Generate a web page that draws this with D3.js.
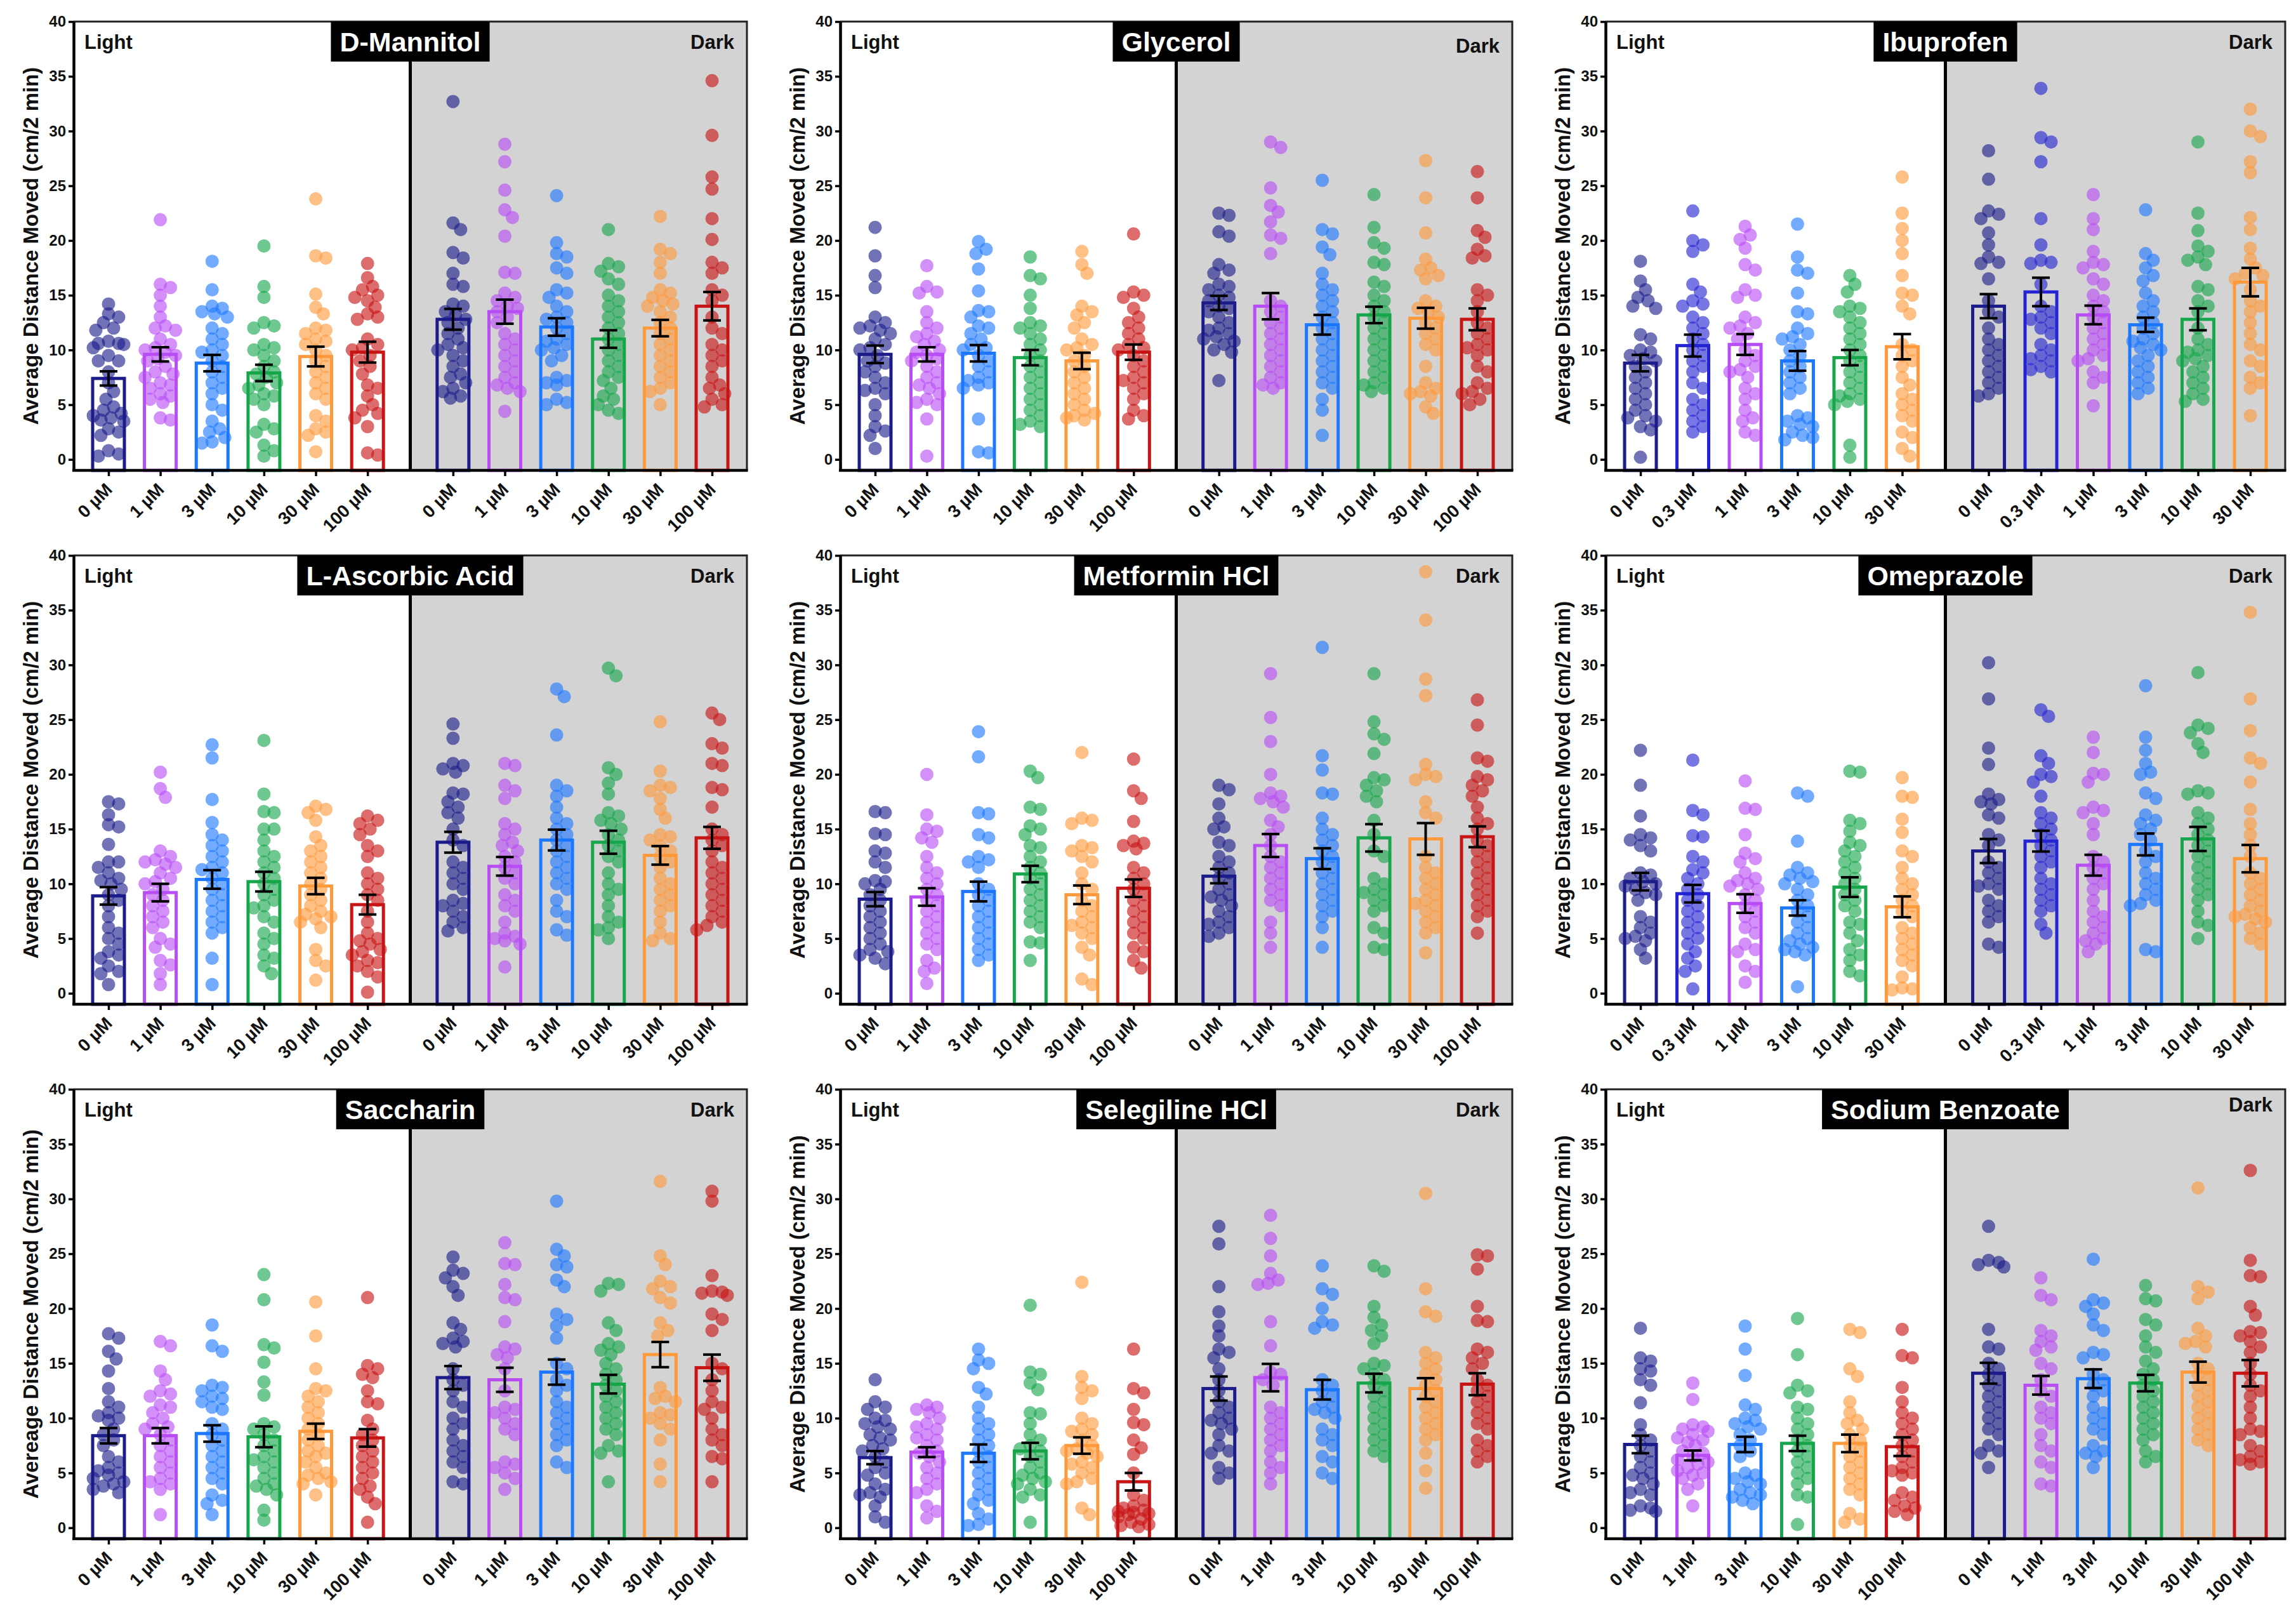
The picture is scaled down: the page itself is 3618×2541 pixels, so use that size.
<!DOCTYPE html>
<html><head><meta charset="utf-8">
<script src="https://cdn.jsdelivr.net/npm/d3@7"></script>
<style>body{margin:0;background:#fff}svg{display:block}text{font-family:"Liberation Sans",Arial,sans-serif;font-weight:bold}</style>
</head><body>
<script>
// ---------- DATA ----------
const panelTitles = ["D-Mannitol","Glycerol","Ibuprofen","L-Ascorbic Acid","Metformin HCl","Omeprazole","Saccharin","Selegiline HCl","Sodium Benzoate"];
const yTitles = ["Average Distance Moved (cm/2 min)","Average Distance Moved (cm/2 min)","Average Distance Moved (cm/2 min)","Average Distance Moved (cm/2 min)","Average Distance Moved (cm/2 min)","Average Distance Moved (cm/2 min)","Avereage Distance Moved (cm/2 min)","Average Distance Moved (cm/2 min)","Average Distance Moved (cm/2 min)"];
const doses6 = ["0 µM","1 µM","3 µM","10 µM","30 µM","100 µM"];
const doses03 = ["0 µM","0.3 µM","1 µM","3 µM","10 µM","30 µM"];
const yTicks = [0,5,10,15,20,25,30,35,40];

const mannitolMean = [7.4,9.6,8.8,7.9,9.4,9.8, 12.8,13.5,12.1,11.0,12.0,14.0];
const mannitolSem  = [0.65,0.65,0.75,0.75,0.9,0.95, 0.95,1.1,0.8,0.8,0.75,1.3];
const mannitolPts = [
 [14.2,13.3,13.0,12.5,12.0,11.8,10.8,10.6,10.5,10.6,10.2,9.5,9.0,9.0,8.0,7.0,6.2,5.5,4.8,4.5,4.2,4.0,3.8,3.6,3.5,2.8,2.5,2.2,0.8,0.5,0.3],
 [21.9,16.0,15.7,15.0,14.0,13.0,12.2,12.0,11.8,11.0,10.5,10.2,10.0,9.8,9.5,9.2,9.0,8.5,8.0,7.8,7.5,7.0,6.8,6.5,6.0,5.8,5.5,5.2,3.8,3.6],
 [18.1,15.5,14.0,13.8,13.5,13.3,13.0,12.0,11.5,11.0,10.5,10.0,9.8,9.5,9.0,8.5,8.0,7.5,7.0,6.5,6.0,5.0,4.5,3.5,2.8,2.5,2.0,1.6,1.5],
 [19.5,15.8,14.8,12.5,12.2,12.0,10.5,10.2,10.0,9.5,9.0,8.5,8.0,7.8,7.5,7.0,6.8,6.5,6.0,5.8,5.5,5.0,3.2,2.8,2.5,1.3,0.8,0.3],
 [23.8,18.6,18.4,15.1,13.9,13.3,12.0,11.8,11.5,11.0,10.8,10.5,10.0,9.5,9.0,8.5,8.0,7.5,7.0,6.5,6.0,5.5,4.0,3.5,2.8,2.5,2.2,0.7],
 [17.9,16.6,15.8,15.5,15.0,14.8,14.5,13.9,13.3,13.0,12.8,11.0,10.5,10.2,10.0,9.5,9.0,8.5,7.8,6.8,6.5,5.8,5.0,4.5,4.2,3.8,3.0,0.6,0.4],
 [32.7,21.6,21.0,18.9,18.4,17.0,16.0,15.8,14.2,14.0,13.5,13.2,12.8,12.5,12.0,11.5,11.0,10.5,10.2,10.0,9.5,9.0,8.5,7.8,7.5,7.0,6.5,6.2,5.8,5.6],
 [28.8,27.2,24.6,22.8,22.1,20.4,17.1,17.0,15.2,14.8,14.5,14.0,13.8,13.5,13.0,12.5,11.5,11.0,10.5,10.0,9.5,9.0,8.5,8.0,7.5,7.0,6.8,6.5,6.2,4.4],
 [24.1,19.8,18.8,18.5,17.5,17.0,15.5,15.2,14.8,14.0,13.5,13.0,12.8,12.5,12.0,11.5,11.0,10.8,10.5,10.2,10.0,9.5,9.0,7.5,7.2,7.0,6.8,5.5,5.2,5.0],
 [21.0,17.9,17.6,17.2,16.5,16.0,15.0,14.5,14.0,13.5,13.0,12.5,12.0,11.5,11.0,10.5,10.0,9.5,9.0,8.5,8.0,7.5,7.2,6.5,5.8,5.5,5.0,4.5,4.2],
 [22.2,19.2,18.8,18.0,17.0,15.5,15.2,14.8,14.5,14.2,14.0,13.5,13.0,12.5,12.0,11.5,11.0,10.5,10.0,9.5,9.0,8.5,8.0,7.5,7.0,6.5,6.2,5.0],
 [34.6,29.6,25.8,24.7,22.0,20.1,18.0,17.5,17.0,15.5,15.0,14.5,13.0,12.0,11.5,10.5,10.0,9.5,9.0,8.5,7.5,6.8,6.5,6.0,5.5,5.0,4.8]
];

const glycerolMean = [9.6,9.6,9.7,9.3,9.0,9.8, 14.3,14.0,12.3,13.2,12.9,12.8];
const glycerolSem  = [0.8,0.65,0.75,0.7,0.75,0.7, 0.65,1.2,0.9,0.75,0.95,1.0];
const glycerolPts = [
 [21.2,18.6,16.8,15.7,13.0,12.5,12.2,12.0,11.8,11.5,11.0,10.5,10.2,10.0,9.5,9.0,8.8,8.5,8.0,7.5,7.0,6.5,6.3,6.0,5.0,4.0,3.0,2.6,2.2,1.0],
 [17.7,15.8,15.3,15.2,13.5,12.5,12.0,11.5,11.2,10.8,10.5,10.0,9.8,9.5,9.2,9.0,8.5,8.0,7.5,7.0,6.8,6.5,6.0,5.5,5.2,5.0,3.7,0.3],
 [19.9,19.2,18.8,17.4,15.4,13.6,13.5,13.0,12.2,12.0,11.5,11.0,10.5,10.2,10.0,9.5,9.0,8.5,8.0,7.5,7.2,7.0,6.8,6.5,3.7,0.7,0.6],
 [18.5,16.8,16.5,15.0,13.8,12.5,12.2,12.0,11.5,11.0,10.5,10.0,9.5,9.0,8.5,8.0,7.5,7.0,6.5,6.0,5.5,5.0,4.5,4.0,3.5,3.2,3.0],
 [19.0,17.8,17.0,14.0,13.5,13.2,12.5,12.0,11.0,10.5,10.2,10.0,9.5,9.0,8.5,8.0,7.5,7.0,6.5,6.0,5.5,5.0,4.5,4.2,4.0,3.8,3.6],
 [20.6,15.3,15.0,14.8,13.8,13.0,12.5,12.0,11.5,11.0,10.5,10.2,10.0,9.5,9.0,8.5,8.0,7.5,7.2,7.0,6.5,6.0,5.5,4.5,4.0,3.7],
 [22.5,22.3,20.8,20.4,17.8,17.3,17.0,16.0,15.8,15.5,15.0,14.8,14.5,14.0,13.8,13.5,13.0,12.5,12.0,11.8,11.5,11.2,11.0,10.8,10.5,10.0,9.8,7.2],
 [29.0,28.5,24.8,23.2,22.6,21.7,20.5,20.2,18.8,14.5,14.0,13.5,13.0,12.5,12.0,11.5,11.0,10.5,10.0,9.5,9.0,8.5,8.0,7.5,7.0,6.8,6.5],
 [25.5,21.0,20.6,19.4,18.7,17.0,16.0,15.5,15.0,14.5,14.0,13.5,13.0,12.5,12.0,11.5,11.0,10.5,10.0,9.5,9.0,8.5,8.0,7.5,7.0,6.5,5.5,4.5,2.2],
 [24.2,21.2,19.8,19.3,18.0,17.8,16.2,15.8,15.0,14.5,14.0,13.5,13.0,12.5,12.0,11.5,11.0,10.5,10.0,9.5,9.0,8.5,8.0,7.5,7.0,6.8,6.5,6.2],
 [27.3,23.9,20.7,18.3,17.5,17.3,16.8,16.5,14.5,14.0,13.8,13.5,13.0,12.5,12.0,11.5,11.0,10.5,10.0,8.5,7.0,6.5,6.2,6.0,5.8,4.8,4.2],
 [26.3,23.9,20.9,20.3,19.2,18.6,18.4,15.5,15.0,14.5,13.5,12.5,12.0,11.5,11.0,10.5,10.2,10.0,9.5,8.5,8.0,7.0,6.5,6.2,6.0,5.5,5.0]
];

const ibuprofenMean = [8.8,10.4,10.5,9.0,9.3,10.3, 14.0,15.3,13.2,12.3,12.8,16.2];
const ibuprofenSem  = [0.75,1.0,0.95,0.9,0.7,1.15, 1.1,1.3,0.85,0.65,1.0,1.3];
const ibuprofenPts = [
 [18.1,16.3,15.5,14.8,14.5,14.0,13.8,11.4,11.0,10.0,9.8,9.5,9.2,9.0,8.5,8.0,7.5,7.0,6.5,6.0,5.5,5.0,4.5,4.0,3.8,3.5,3.0,2.7,0.2],
 [22.7,20.0,19.6,19.0,16.0,15.3,14.5,14.2,14.0,13.0,12.5,12.0,11.5,11.0,10.5,10.0,9.5,9.0,8.5,8.0,7.0,6.5,5.5,5.0,4.5,4.0,3.5,3.0,2.5],
 [21.3,20.5,20.1,19.3,17.8,17.3,15.5,15.0,14.8,13.0,12.5,12.2,12.0,11.5,11.0,10.0,9.5,9.0,8.5,8.2,8.0,7.5,6.5,6.0,5.5,4.5,3.8,3.5,2.5,2.2],
 [21.5,18.5,17.3,17.0,15.2,13.5,13.3,12.0,11.5,11.2,11.0,10.5,10.0,9.5,9.0,8.5,8.0,7.5,7.0,6.5,6.0,4.0,3.8,3.5,3.2,3.0,2.5,2.2,2.0,1.8],
 [16.8,16.0,15.3,14.0,13.8,13.5,13.0,12.5,12.0,11.5,11.0,10.5,10.0,9.5,9.0,8.5,8.0,7.5,7.0,6.5,6.0,5.8,5.5,5.3,5.0,1.3,0.2],
 [25.8,22.5,21.1,20.0,18.8,16.8,15.2,15.0,14.0,13.3,10.5,10.0,9.5,9.0,8.5,7.5,6.8,6.0,5.5,5.0,4.5,4.0,3.5,2.5,2.0,1.0,0.3],
 [28.2,25.6,22.7,22.4,22.0,20.7,19.6,18.5,18.0,17.9,16.5,14.5,13.5,13.0,12.0,11.0,10.5,10.0,9.5,9.0,8.5,8.0,7.5,7.0,6.5,6.0,5.8],
 [33.9,29.4,29.0,27.2,22.0,19.6,18.2,18.0,17.9,16.0,14.0,13.5,13.0,12.8,12.5,12.0,11.5,10.5,10.0,9.5,9.2,9.0,8.5,8.2,8.0],
 [24.2,22.0,21.0,19.0,18.0,17.8,17.5,16.5,16.0,15.0,14.5,14.0,13.5,13.0,12.5,12.0,11.5,11.0,10.5,10.0,9.5,9.2,9.0,8.0,7.5,7.0,4.9],
 [22.8,18.8,18.2,17.5,16.8,16.3,15.2,14.5,14.0,13.5,13.0,12.5,12.0,11.5,11.0,10.8,10.5,10.2,10.0,9.5,9.0,8.5,8.0,7.5,7.0,6.5,6.0],
 [29.0,22.5,20.9,19.5,19.0,18.5,18.2,17.8,15.8,15.5,14.5,14.0,13.5,12.0,11.0,10.5,10.0,9.8,9.5,9.2,9.0,8.5,8.0,7.5,7.0,6.5,6.0,5.5,5.3],
 [32.0,30.0,29.5,27.2,26.2,22.1,21.0,19.3,18.3,17.5,17.0,16.8,16.5,15.5,14.5,14.0,13.5,12.5,11.5,10.5,10.0,9.0,8.5,7.5,7.0,6.5,4.0]
];

const ascorbicMean = [8.9,9.2,10.4,10.2,9.8,8.1, 13.8,11.6,14.0,13.8,12.6,14.2];
const ascorbicSem  = [0.8,0.8,0.85,0.9,0.75,0.9, 0.95,0.85,0.95,1.05,0.85,1.0];
const ascorbicPts = [
 [17.5,17.3,16.3,15.4,15.2,13.6,12.0,12.0,11.5,11.0,10.5,10.3,10.0,9.5,9.0,8.5,8.0,7.0,6.0,5.5,5.0,4.5,3.8,3.5,3.2,2.5,2.0,1.8,0.8],
 [20.2,18.7,17.9,13.0,12.5,12.2,12.0,11.8,11.5,11.0,10.5,10.2,10.0,9.5,9.0,8.5,8.0,7.5,7.0,6.5,6.0,5.0,4.5,4.2,3.0,2.6,1.8,0.8],
 [22.7,21.5,17.7,15.6,14.5,14.0,13.5,13.0,12.5,12.0,11.5,11.3,11.0,10.5,10.0,9.5,9.0,8.5,8.0,7.5,7.0,6.5,6.0,5.5,3.2,0.8],
 [23.1,18.2,16.6,16.5,15.0,15.0,14.0,13.0,12.5,12.0,11.5,11.0,10.5,10.0,9.5,9.0,8.5,8.0,7.8,7.0,6.5,5.5,5.0,4.5,3.5,3.2,2.5,1.8],
 [17.1,16.8,16.5,15.8,14.3,13.5,13.0,12.5,12.0,11.5,11.0,10.5,10.0,9.5,9.0,8.5,8.0,7.5,7.2,7.0,6.8,6.5,6.0,4.0,3.0,2.5,1.2],
 [16.2,15.8,15.5,15.0,14.5,13.5,13.0,12.5,11.0,10.5,10.0,9.5,9.0,8.5,7.5,6.5,5.5,5.0,4.8,4.5,4.0,3.8,3.5,3.0,2.8,2.5,2.0,1.5,0.1],
 [24.6,23.3,21.0,20.8,20.5,20.2,18.3,18.2,17.5,17.0,16.5,16.0,15.0,14.0,13.5,12.0,11.5,11.0,10.5,10.0,9.5,8.5,8.2,8.0,7.5,7.0,6.5,6.0,5.7],
 [21.0,20.8,19.0,18.5,17.8,15.5,15.0,14.5,13.8,13.5,13.0,12.5,12.0,11.5,11.0,10.5,10.0,9.0,8.5,8.0,7.5,6.5,5.5,5.2,5.0,4.8,4.5,2.4],
 [27.8,27.1,23.6,19.0,18.5,18.0,17.0,16.0,15.5,15.0,14.5,14.0,13.5,13.0,12.5,12.0,11.5,11.0,10.5,10.0,9.5,8.5,7.5,7.0,5.8,5.3],
 [29.7,29.0,20.6,20.0,19.2,18.2,16.5,16.2,15.8,15.5,15.0,14.5,14.0,13.5,13.0,12.5,12.0,11.0,10.0,9.5,9.0,8.0,7.0,6.5,6.0,5.8,5.0],
 [24.8,20.3,19.0,18.8,18.5,17.8,16.8,16.0,14.5,14.3,14.0,13.5,13.0,12.5,12.0,11.5,10.5,10.0,9.5,9.0,8.5,8.0,7.5,6.5,5.5,5.0,4.8],
 [25.6,25.0,22.8,22.4,21.0,20.8,18.8,18.6,17.0,15.0,14.5,14.0,13.5,13.0,12.0,11.5,11.0,10.5,10.0,9.5,9.0,8.5,8.0,7.5,7.0,6.5,6.2,5.8]
];

const metforminMean = [8.6,8.8,9.3,10.9,9.0,9.6, 10.7,13.5,12.3,14.2,14.1,14.3];
const metforminSem  = [0.65,0.8,0.9,0.75,0.85,0.8, 0.65,1.05,0.95,1.25,1.45,0.95];
const metforminPts = [
 [16.6,16.5,14.6,14.5,13.0,12.8,12.0,11.5,10.3,10.2,10.0,9.5,9.0,8.5,8.0,7.5,7.0,6.5,6.0,5.5,5.0,4.5,4.0,3.8,3.5,3.2,2.7],
 [20.0,16.3,15.0,14.8,14.2,13.8,12.5,11.5,11.0,10.5,10.0,9.5,9.0,8.5,8.0,7.5,7.0,6.5,6.0,5.5,5.0,4.5,4.0,3.0,2.3,2.0,0.9],
 [23.9,21.6,16.5,16.4,14.5,14.2,12.5,12.2,12.0,11.5,10.0,9.5,9.0,8.5,8.0,7.5,7.0,6.5,6.0,5.5,5.0,4.5,4.0,3.5,3.0],
 [20.3,19.7,17.0,16.8,15.3,15.0,14.5,13.5,13.3,12.5,12.0,11.5,11.0,10.5,10.0,9.5,9.0,8.5,8.0,7.5,7.0,6.5,6.0,4.7,4.6,3.0],
 [22.0,16.0,15.8,15.5,13.5,13.3,13.0,12.5,12.0,11.0,10.0,9.5,8.5,8.0,7.5,7.0,6.5,6.2,6.0,5.5,5.0,4.2,3.5,1.3,0.8],
 [21.4,18.5,17.8,15.7,13.9,13.7,13.5,13.2,11.5,11.0,10.5,10.0,9.5,9.0,8.5,8.0,7.5,7.0,6.5,6.0,5.5,5.0,4.2,3.8,3.0,2.3],
 [19.0,18.6,17.3,16.0,15.2,15.0,13.8,13.5,12.5,12.0,11.5,11.0,10.5,10.0,9.5,9.0,8.8,8.5,8.0,7.5,7.0,6.5,6.3,6.0,5.5,5.2],
 [29.2,25.2,23.0,20.0,18.3,18.0,17.8,17.5,17.0,15.8,15.2,14.5,13.5,12.5,12.0,11.5,11.0,10.5,10.0,9.5,9.0,8.5,8.0,6.5,5.5,4.2],
 [31.6,21.7,20.4,18.3,18.2,16.0,15.0,14.5,14.0,13.5,13.0,12.5,12.0,11.5,11.0,10.5,10.0,9.5,9.0,8.5,8.0,7.5,7.0,6.0,4.2],
 [29.2,24.8,23.7,23.2,21.9,19.7,19.5,19.0,18.5,18.0,17.5,15.8,14.5,13.0,12.5,10.5,10.0,9.5,9.2,9.0,8.5,8.0,7.5,6.0,5.5,4.2,4.0],
 [38.5,34.1,28.7,27.2,20.9,20.0,19.8,19.5,17.5,16.5,16.0,12.5,11.5,11.0,10.5,10.0,9.5,9.0,8.5,8.2,8.0,7.5,7.0,6.5,6.0,5.5,3.7],
 [26.8,24.5,21.5,21.2,19.8,19.5,19.0,18.5,18.0,17.0,16.0,15.5,15.0,14.0,13.5,13.0,12.5,12.0,11.5,11.0,10.5,10.0,9.5,9.0,8.5,8.0,7.5,7.0,5.5]
];

const omeprazoleMean = [10.2,9.1,8.2,7.8,9.7,7.9, 13.0,13.9,11.7,13.6,14.1,12.3];
const omeprazoleSem  = [0.8,0.8,0.85,0.7,0.9,0.95, 1.1,0.95,0.95,1.0,1.1,1.25];
const omeprazolePts = [
 [22.2,19.0,16.2,14.5,14.2,14.0,13.5,13.0,11.0,10.8,10.5,10.2,10.0,9.8,9.5,9.2,9.0,8.5,7.0,6.5,6.0,5.5,5.2,5.0,4.8,4.0,3.2],
 [21.3,16.7,16.3,14.4,14.3,12.5,12.0,11.3,11.0,10.5,10.0,9.5,9.0,8.5,8.0,7.5,7.0,6.5,6.0,5.5,5.0,4.5,3.8,3.2,2.5,2.0,0.4],
 [19.4,16.9,16.8,14.5,12.8,12.3,12.0,11.0,10.5,10.3,10.0,9.8,9.5,9.0,8.5,8.0,7.5,7.0,6.5,6.0,5.5,4.5,4.0,3.8,2.5,2.0,1.0],
 [18.3,18.0,13.9,11.5,11.0,10.8,10.5,10.2,10.0,9.5,9.0,8.5,8.0,7.5,7.0,6.5,6.0,5.5,5.0,4.8,4.5,4.2,4.0,3.8,3.5,0.6],
 [20.3,20.2,15.8,15.5,14.8,13.8,13.5,13.0,12.5,12.0,11.5,11.0,10.5,10.0,9.5,9.0,8.5,8.0,7.5,6.5,6.3,5.5,4.8,4.0,3.5,3.0,2.0,1.6],
 [19.7,18.0,17.9,15.9,14.7,13.0,12.5,11.5,10.5,10.0,9.5,9.0,8.5,8.0,7.5,7.0,6.0,5.5,5.0,4.5,4.0,3.5,3.0,2.5,1.5,0.5,0.4,0.3],
 [30.2,26.9,22.4,20.9,18.2,17.7,17.5,17.3,16.3,16.0,14.5,14.0,13.5,12.0,11.5,11.0,10.5,10.0,9.8,9.5,8.5,8.0,7.5,7.0,6.5,4.5,4.2],
 [25.9,25.3,21.7,21.0,20.0,19.8,19.3,18.0,16.5,16.0,15.5,15.0,14.5,14.0,13.5,13.0,12.5,12.0,11.5,10.5,10.0,9.5,9.0,8.5,8.0,7.5,6.3,5.5],
 [23.4,22.0,20.1,20.0,19.3,17.0,16.7,16.5,15.5,14.5,12.5,12.0,11.5,11.0,10.5,10.0,9.5,8.5,7.5,7.0,6.5,6.0,5.5,5.0,4.8,4.5,3.8],
 [28.1,23.4,22.2,21.0,20.2,20.0,18.3,17.8,16.3,15.8,15.5,15.0,14.5,14.0,13.0,12.5,12.0,11.0,10.5,10.0,9.5,9.0,8.5,8.2,8.0,4.0,3.8],
 [29.3,24.5,24.2,23.8,22.8,22.0,18.5,18.3,18.2,16.5,16.0,15.5,15.0,14.5,14.0,13.5,13.0,12.5,12.0,11.5,11.0,10.5,10.0,9.5,9.0,8.5,7.5,6.5,6.2,5.0],
 [34.8,26.9,24.0,21.5,21.0,19.3,16.8,15.5,14.5,13.5,12.5,11.0,10.5,10.0,9.5,9.0,8.5,8.0,7.5,7.2,7.0,6.8,6.5,6.0,5.5,5.0,4.5]
];

const saccharinMean = [8.4,8.4,8.6,8.3,8.8,8.2, 13.7,13.5,14.2,13.1,15.8,14.6];
const saccharinSem  = [0.7,0.7,0.75,0.95,0.7,0.8, 1.05,1.1,1.15,0.85,1.15,1.2];
const saccharinPts = [
 [17.7,17.3,16.1,15.4,14.3,12.7,11.5,11.0,10.5,10.2,10.0,9.8,9.0,8.5,8.0,7.5,6.5,6.0,5.5,5.2,5.0,4.8,4.5,4.2,4.0,3.8,3.5,3.2],
 [17.0,16.6,14.3,13.5,12.5,12.2,12.0,11.2,11.0,10.5,10.0,9.5,9.2,9.0,8.5,8.0,7.5,7.0,6.5,6.0,5.5,5.0,4.5,4.2,4.0,3.5,1.2],
 [18.5,16.6,16.1,13.0,12.8,12.5,12.0,11.8,11.5,11.0,10.8,9.5,9.0,8.5,8.0,7.5,7.0,6.5,6.0,5.5,5.0,4.5,4.0,3.0,2.5,2.2,1.2],
 [23.1,20.8,16.7,16.4,15.1,13.3,12.1,9.5,9.2,9.0,8.5,8.0,7.5,7.0,6.5,6.2,6.0,5.5,5.0,4.5,4.0,3.8,3.5,3.0,1.6,0.7],
 [20.6,17.5,14.5,12.7,12.5,12.0,11.5,11.0,10.5,10.0,9.5,9.0,8.5,8.0,7.5,7.0,6.8,6.5,6.0,5.5,5.0,4.8,4.5,4.2,4.0,3.0],
 [21.0,14.8,14.5,14.0,13.7,12.5,11.5,11.3,9.8,9.0,8.5,8.0,7.5,7.0,6.5,6.0,5.5,5.0,4.5,3.8,3.5,2.8,2.2,0.5],
 [24.7,23.5,23.2,22.8,22.0,21.2,18.7,18.1,17.3,17.0,16.8,16.5,14.5,13.5,13.0,12.5,11.5,11.0,10.0,9.5,9.0,8.0,7.5,7.0,6.5,6.0,5.5,4.2,4.0],
 [26.0,24.1,24.0,22.2,21.0,20.8,18.8,16.5,16.3,15.8,15.5,14.5,12.5,11.0,10.8,10.5,10.0,9.5,9.0,8.5,6.0,5.8,5.5,5.0,4.5,3.5],
 [29.8,25.4,24.8,24.0,23.8,22.6,22.0,19.5,19.0,18.4,17.3,15.0,14.5,13.5,13.0,12.5,11.5,11.0,10.5,10.0,9.5,9.0,8.5,8.0,7.5,6.0,5.5],
 [22.3,22.2,21.6,18.7,18.0,16.8,16.5,16.2,15.8,15.0,14.5,14.0,13.5,13.0,12.5,12.0,11.5,11.0,10.5,10.0,9.5,9.0,8.5,7.5,7.0,6.8,4.2],
 [31.6,24.8,24.0,22.5,22.0,21.8,21.0,20.5,18.7,18.0,17.5,12.8,12.0,11.8,11.5,10.5,10.3,10.0,9.5,9.0,8.0,5.8,4.2],
 [30.7,29.8,23.0,21.6,21.5,21.4,21.2,19.5,19.0,18.0,15.0,14.5,13.5,12.5,11.5,11.0,10.8,10.0,9.0,8.5,8.0,7.5,6.5,6.3,4.2]
];

const selegilineMean = [6.4,6.9,6.8,7.0,7.5,4.2, 12.7,13.7,12.6,13.2,12.7,13.1];
const selegilineSem  = [0.6,0.45,0.8,0.75,0.75,0.8, 1.1,1.25,0.9,0.85,0.95,1.0];
const selegilinePts = [
 [13.5,11.5,11.0,10.8,10.0,9.8,9.5,9.2,9.0,8.5,8.2,8.0,7.5,7.2,7.0,6.5,6.0,5.5,5.0,4.8,4.0,3.5,3.2,3.0,2.8,2.0,1.0,0.5],
 [11.2,11.0,10.8,10.5,10.0,9.5,9.2,9.0,8.5,8.2,8.0,7.5,7.0,6.8,6.5,6.0,5.5,5.0,4.5,4.0,3.5,3.2,2.0,1.5,0.9],
 [16.3,15.3,15.0,14.5,12.8,12.2,11.0,10.0,9.5,9.0,8.5,8.0,7.5,7.0,6.5,6.0,5.5,5.0,4.5,4.0,3.5,3.0,2.5,2.2,1.3,0.8,0.3,0.2],
 [20.3,14.2,14.0,13.2,12.6,10.5,10.4,9.5,8.5,8.0,7.5,7.2,7.0,6.5,6.0,5.5,5.0,4.8,4.5,4.2,4.0,3.5,3.0,2.8,0.5],
 [22.4,13.8,12.8,12.5,11.8,10.0,9.5,9.0,8.8,8.5,8.0,7.5,7.2,7.0,6.8,6.5,6.0,5.8,5.5,5.0,4.5,4.2,4.0,1.8,1.2],
 [16.3,12.7,12.3,10.8,9.6,9.4,8.0,7.3,6.7,5.0,3.0,2.5,2.0,1.8,1.6,1.5,1.4,1.3,1.2,1.0,0.8,0.5,0.3,0.2,0.1],
 [27.5,25.9,22.0,19.7,18.4,17.5,16.3,16.0,15.5,14.5,13.5,12.5,11.5,11.0,10.5,10.0,9.8,9.5,9.0,8.5,7.5,7.0,6.8,5.5,5.0,4.5],
 [28.5,26.4,24.8,23.2,22.6,22.3,22.2,18.8,16.6,14.2,14.0,13.5,13.0,11.0,10.5,10.0,9.5,9.0,8.5,8.0,7.5,7.0,6.0,5.5,5.0,4.0],
 [23.9,21.8,21.3,20.0,18.8,18.5,18.2,13.5,13.0,12.5,12.0,11.5,11.0,10.8,10.5,10.0,9.0,8.5,8.0,7.5,6.5,6.0,5.0,4.5],
 [23.9,23.4,20.2,19.2,18.5,18.0,17.5,16.8,15.0,14.8,14.5,14.0,13.5,13.0,12.5,12.0,11.5,11.0,10.5,10.0,9.5,9.0,8.5,8.0,7.5,7.0,6.5],
 [30.5,21.8,19.7,19.3,16.0,15.5,15.0,14.5,14.0,13.5,13.0,12.5,12.0,11.5,11.0,10.5,10.0,9.5,9.0,8.5,8.0,6.8,5.2,3.6],
 [24.9,24.8,23.6,20.2,18.9,18.8,16.3,16.0,15.5,15.0,14.5,13.5,13.0,12.5,12.0,11.5,11.0,10.5,10.0,9.5,9.0,8.0,7.5,7.0,6.5,6.0]
];

const benzoateMean = [7.6,6.6,7.6,7.7,7.7,7.4, 14.1,13.0,13.6,13.2,14.2,14.1];
const benzoateSem  = [0.8,0.45,0.7,0.7,0.8,0.85, 0.95,0.85,0.85,0.75,0.95,1.2];
const benzoatePts = [
 [18.2,15.5,15.2,14.5,14.3,13.5,13.0,11.4,9.4,8.5,8.0,7.5,7.0,6.5,6.0,5.5,5.0,4.8,4.5,4.0,3.5,3.2,3.0,2.0,1.8,1.6,1.5],
 [13.2,11.7,9.4,9.2,9.0,8.8,8.5,8.2,8.0,7.8,7.5,7.0,6.8,6.5,6.2,6.0,5.8,5.5,5.2,5.0,4.8,4.5,4.0,3.5,2.0],
 [18.4,16.3,13.9,11.2,10.8,10.0,9.8,9.5,9.2,9.0,8.5,8.0,7.5,7.0,6.5,5.0,4.8,4.5,4.2,4.0,3.5,3.2,3.0,2.8,2.5,2.2],
 [19.1,15.8,13.0,12.5,12.3,11.0,10.8,10.0,9.5,9.0,8.5,8.0,7.5,7.0,6.5,6.0,5.5,5.0,4.5,4.0,3.0,2.8,0.3],
 [18.1,17.8,14.5,13.8,11.5,10.5,9.8,9.5,9.0,8.5,8.0,7.5,7.0,6.5,6.0,5.5,5.0,4.5,4.0,3.5,3.0,1.3,0.8,0.5],
 [18.1,15.7,15.5,12.8,11.5,10.5,10.0,9.5,9.0,8.5,8.0,7.5,7.0,6.5,6.0,5.5,5.2,5.0,4.8,3.2,2.8,2.5,2.0,1.8,1.5,1.2],
 [27.5,24.4,24.2,24.0,23.8,18.1,16.5,16.3,15.0,14.5,14.0,13.5,13.0,12.5,12.0,11.5,11.0,10.5,10.0,9.5,9.0,8.5,7.5,7.0,6.8,5.5],
 [22.8,21.2,20.8,18.0,17.5,17.0,16.5,16.2,15.0,14.5,13.5,12.5,12.0,11.0,10.5,10.0,9.5,8.5,7.5,7.0,6.0,5.5,4.0,3.8],
 [24.5,20.8,20.5,20.2,19.5,18.5,18.0,16.0,15.8,15.5,14.0,13.5,13.0,12.5,12.0,11.0,10.5,10.0,9.5,9.0,8.5,7.5,7.0,6.8,6.5,5.5],
 [22.1,20.9,20.7,19.0,18.5,17.5,16.5,16.0,15.2,14.5,14.0,13.5,13.0,12.5,12.0,11.5,11.0,10.5,10.0,9.5,9.0,8.5,8.0,7.0,6.5,6.0],
 [31.0,22.0,21.5,20.9,18.2,17.5,17.0,16.8,16.5,15.0,14.5,14.0,13.5,13.0,12.5,12.0,11.5,11.0,10.5,10.0,9.5,9.0,8.5,8.0,7.5],
 [32.6,24.4,23.0,22.9,20.2,19.4,17.9,17.8,17.5,17.0,16.5,16.0,15.0,14.0,13.0,12.5,12.0,11.0,10.0,9.0,8.8,8.5,7.5,7.0,6.5,6.2,6.0,5.8]
];

const doseColors = {"0 µM":"#1b1b8a","0.3 µM":"#2424d4","1 µM":"#b84cf5","3 µM":"#1c78ff","10 µM":"#17a64b","30 µM":"#ff9a3c","100 µM":"#c81414"};

// ---------- BUILD ----------
const panels = [
  {title:panelTitles[0], doses:doses6,  mean:mannitolMean,   sem:mannitolSem,   pts:mannitolPts},
  {title:panelTitles[1], doses:doses6,  mean:glycerolMean,   sem:glycerolSem,   pts:glycerolPts},
  {title:panelTitles[2], doses:doses03, mean:ibuprofenMean,  sem:ibuprofenSem,  pts:ibuprofenPts},
  {title:panelTitles[3], doses:doses6,  mean:ascorbicMean,   sem:ascorbicSem,   pts:ascorbicPts},
  {title:panelTitles[4], doses:doses6,  mean:metforminMean,  sem:metforminSem,  pts:metforminPts},
  {title:panelTitles[5], doses:doses03, mean:omeprazoleMean, sem:omeprazoleSem, pts:omeprazolePts},
  {title:panelTitles[6], doses:doses6,  mean:saccharinMean,  sem:saccharinSem,  pts:saccharinPts},
  {title:panelTitles[7], doses:doses6,  mean:selegilineMean, sem:selegilineSem, pts:selegilinePts},
  {title:panelTitles[8], doses:doses6,  mean:benzoateMean,   sem:benzoateSem,   pts:benzoatePts}
];

const W = 3618, H = 2541;
const colLeft = [116, 1324, 2530], colRight = [1177, 2383, 3601];
const rowTop = [34, 875, 1716], rowAxis = [741, 1582, 2424];
const darkDy = [0,6,0,0,0,0,0,0,-8];
const R = 10.5;

const svg = d3.select("body").append("svg").attr("width", W).attr("height", H);
svg.append("rect").attr("width", W).attr("height", H).attr("fill", "#fff");

function swarm(vals, y, r, maxOff) {
  const placed = [], out = new Array(vals.length);
  const order = vals.map((v, i) => ({v, i})).sort((a, b) => b.v - a.v);
  const minD = r * 1.45, step = 4;
  for (const o of order) {
    const py = y(o.v);
    let best = 0, bestScore = Infinity;
    for (let k = 0; k <= 2 * Math.ceil(maxOff / step); k++) {
      const off = (k % 2 === 1 ? 1 : -1) * Math.ceil(k / 2) * step;
      if (Math.abs(off) > maxOff) continue;
      let ov = 0;
      for (const p of placed) { const d = Math.hypot(p.x - off, p.y - py); if (d < minD) ov += (minD - d); }
      if (ov === 0) { best = off; bestScore = 0; break; }
      if (ov < bestScore) { bestScore = ov; best = off; }
    }
    placed.push({x: best, y: py}); out[o.i] = best;
  }
  return out;
}

panels.forEach((p, k) => {
  const col = k % 3, row = Math.floor(k / 3);
  const left = colLeft[col], right = colRight[col], top = rowTop[row], base = rowAxis[row];
  const g = svg.append("g");
  const y = d3.scaleLinear().domain([-1, 40]).range([base, top]);
  const x = d3.scaleLinear().domain([0, 11.65]).range([left + 55, right - 55]);
  const slot = i => i < 6 ? i : i + 0.65;
  const divX = x(5.825);
  const labels = p.doses.concat(p.doses);
  const barW = 50;

  g.append("rect").attr("x", divX).attr("y", top).attr("width", right - divX).attr("height", base - top).attr("fill", "#d3d3d3");

  g.selectAll(".bar").data(p.mean).join("rect")
    .attr("x", (d, i) => x(slot(i)) - barW / 2).attr("width", barW)
    .attr("y", d => y(d)).attr("height", d => base - y(d))
    .attr("fill", "none").attr("stroke", (d, i) => doseColors[labels[i]]).attr("stroke-width", 5);

  p.pts.forEach((vals, i) => {
    const offs = swarm(vals, y, R, 24);
    g.append("g").selectAll("circle").data(vals).join("circle")
      .attr("cx", (d, j) => x(slot(i)) + offs[j]).attr("cy", d => y(d)).attr("r", R)
      .attr("fill", doseColors[labels[i]]).attr("fill-opacity", 0.62);
  });

  const eb = g.append("g").attr("stroke", "#000").attr("stroke-width", 4).attr("fill", "none");
  p.mean.forEach((m, i) => {
    const cx = x(slot(i)), lo = y(m - p.sem[i]), hi = y(m + p.sem[i]);
    eb.append("line").attr("x1", cx).attr("x2", cx).attr("y1", lo).attr("y2", hi);
    eb.append("line").attr("x1", cx - 14).attr("x2", cx + 14).attr("y1", lo).attr("y2", lo);
    eb.append("line").attr("x1", cx - 14).attr("x2", cx + 14).attr("y1", hi).attr("y2", hi);
  });

  g.append("line").attr("x1", divX).attr("x2", divX).attr("y1", top).attr("y2", base).attr("stroke", "#000").attr("stroke-width", 5);
  g.append("path").attr("d", `M${left},${top}H${right}V${base}`).attr("fill", "none").attr("stroke", "#222").attr("stroke-width", 3);

  const ya = g.append("g").attr("transform", `translate(${left},0)`)
    .call(d3.axisLeft(y).tickValues(yTicks).tickSize(8).tickSizeOuter(0).tickPadding(4));
  ya.select(".domain").attr("stroke-width", 4.5).attr("stroke", "#000");
  ya.selectAll(".tick line").attr("stroke-width", 3.5).attr("stroke", "#000");
  ya.selectAll(".tick text").attr("font-size", 24).attr("font-weight", "bold").attr("fill", "#111").attr("font-family", "Liberation Sans, Arial, sans-serif");

  const xa = g.append("g").attr("transform", `translate(0,${base})`)
    .call(d3.axisBottom(x).tickValues(labels.map((l, i) => slot(i))).tickFormat((d, i) => labels[i]).tickSize(9).tickSizeOuter(0));
  xa.select(".domain").remove();
  xa.selectAll(".tick line").attr("stroke-width", 3.5).attr("stroke", "#000");
  xa.selectAll(".tick text").attr("font-size", 28).attr("font-weight", "bold").attr("fill", "#111")
    .attr("font-family", "Liberation Sans, Arial, sans-serif")
    .attr("text-anchor", "end").attr("dy", null).attr("y", 0)
    .attr("transform", "translate(7,32) rotate(-45)");
  g.append("line").attr("x1", left - 2).attr("x2", right + 1.5).attr("y1", base).attr("y2", base).attr("stroke", "#000").attr("stroke-width", 4.5);

  g.append("text").attr("x", left + 17).attr("y", top + 43).attr("font-size", 31).attr("fill", "#111").text("Light");
  g.append("text").attr("x", right - 20).attr("y", top + 43 + darkDy[k]).attr("font-size", 31).attr("fill", "#111").attr("text-anchor", "end").text("Dark");

  const tt = g.append("text").attr("x", divX).attr("y", top + 47).attr("font-size", 43).attr("fill", "#fff").attr("text-anchor", "middle").text(p.title);
  const tw = tt.node().getComputedTextLength();
  g.insert("rect", function() { return tt.node(); }).attr("x", divX - tw / 2 - 14).attr("y", top).attr("width", tw + 28).attr("height", 63).attr("fill", "#000");

  g.append("text").attr("transform", `translate(${left - 56},${(top + base) / 2}) rotate(-90)`)
    .attr("text-anchor", "middle").attr("font-size", 33).attr("fill", "#111").text(yTitles[k]);
});
</script>
</body></html>
